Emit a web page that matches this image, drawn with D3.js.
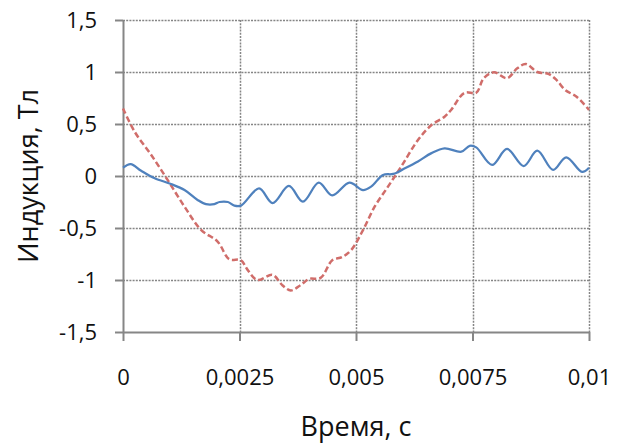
<!DOCTYPE html>
<html>
<head>
<meta charset="utf-8">
<script src="https://cdn.jsdelivr.net/npm/d3@7"></script>
<style>
  body { margin: 0; background: #fff; }
  svg { display: block; font-family: "Open Sans", sans-serif; }
</style>
</head>
<body>
<svg id="chart" width="626" height="443"></svg>
<script>
// time, s
var blueT = [0, 0.000165, 0.00039, 0.00068, 0.00103, 0.00132, 0.0016, 0.00178, 0.00196, 0.00207, 0.00225, 0.00239, 0.00253,
             0.00292, 0.00321, 0.00356, 0.00386, 0.0042, 0.00449, 0.00486, 0.00515, 0.00533, 0.00558, 0.0058, 0.00605,
             0.00633, 0.00662, 0.0069, 0.00726, 0.00744, 0.00758, 0.00792, 0.00824, 0.0086, 0.00889, 0.00923, 0.00951,
             0.00985, 0.01];
var blueB = [0.08, 0.115, 0.05, -0.022, -0.077, -0.135, -0.23, -0.27, -0.27, -0.25, -0.25, -0.285, -0.285,
             -0.12, -0.26, -0.096, -0.247, -0.064, -0.186, -0.064, -0.135, -0.1, 0.01, 0.02, 0.074,
             0.14, 0.22, 0.266, 0.234, 0.29, 0.275, 0.106, 0.26, 0.096, 0.243, 0.058, 0.18,
             0.04, 0.08];

var redT = [0, 0.00025, 0.00061, 0.00096, 0.00132, 0.00168, 0.00203, 0.00228, 0.00253, 0.00267, 0.00288, 0.00321,
            0.00342, 0.0036, 0.00381, 0.00399, 0.00424, 0.00449, 0.0047, 0.0049, 0.00515, 0.0054, 0.00569, 0.00597,
            0.00633, 0.00662, 0.0069, 0.00704, 0.00733, 0.00758, 0.00774, 0.00796, 0.00824, 0.00846, 0.00864,
            0.00889, 0.00914, 0.00931, 0.00949, 0.00974, 0.01];
var redB = [0.65, 0.426, 0.2, -0.04, -0.295, -0.52, -0.63, -0.8, -0.81, -0.9, -1.0, -0.95,
            -1.05, -1.1, -1.05, -0.99, -0.98, -0.81, -0.78, -0.71, -0.52, -0.295, -0.1, 0.09,
            0.346, 0.49, 0.57, 0.635, 0.8, 0.8, 0.94, 0.997, 0.94, 1.035, 1.077,
            1.0, 0.98, 0.92, 0.827, 0.76, 0.635];

var xTicks = [0, 0.0025, 0.005, 0.0075, 0.01];
var yTicks = [-1.5, -1, -0.5, 0, 0.5, 1, 1.5];

var svg = d3.select("#chart");
var margin = {top: 20, right: 37, bottom: 111, left: 123};
var width = +svg.attr("width") - margin.left - margin.right,
    height = +svg.attr("height") - margin.top - margin.bottom;

var fmt = function (d) { return String(d).replace(".", ","); };

var x = d3.scaleLinear().domain([0, 0.01]).range([0, width]);
var y = d3.scaleLinear().domain([-1.5, 1.5]).range([height, 0]);

var g = svg.append("g")
    .attr("transform", "translate(" + margin.left + "," + margin.top + ")");

// grid (dotted, Excel style)
g.append("g").selectAll("line")
    .data(yTicks.filter(function (d) { return d > -1.5; }))
    .join("line")
    .attr("x1", 0).attr("x2", width)
    .attr("y1", function (d) { return Math.round(y(d)) + 0.5; })
    .attr("y2", function (d) { return Math.round(y(d)) + 0.5; })
    .attr("stroke", "#858585").attr("stroke-width", 1.5).attr("stroke-dasharray", "2,1.2");

g.append("g").selectAll("line")
    .data(xTicks.filter(function (d) { return d > 0; }))
    .join("line")
    .attr("y1", 0).attr("y2", height)
    .attr("x1", function (d) { return Math.round(x(d)) + 0.5; })
    .attr("x2", function (d) { return Math.round(x(d)) + 0.5; })
    .attr("stroke", "#858585").attr("stroke-width", 1.5).attr("stroke-dasharray", "2,1.2");

// axes
var yAxis = g.append("g")
    .call(d3.axisLeft(y).tickValues(yTicks).tickFormat(fmt).tickSize(8).tickPadding(18).tickSizeOuter(0));
var xAxis = g.append("g")
    .attr("transform", "translate(0," + height + ")")
    .call(d3.axisBottom(x).tickValues(xTicks).tickFormat(fmt).tickSize(9).tickSizeOuter(0));

[yAxis, xAxis].forEach(function (a) {
    a.select(".domain").attr("stroke", "#868686").attr("stroke-width", 2);
    a.selectAll(".tick line").attr("stroke", "#868686").attr("stroke-width", 2);
    a.selectAll("text").attr("fill", "#111").style("font-size", "22px").style("font-family", "Open Sans, sans-serif");
});
xAxis.selectAll("text").attr("y", 53).attr("dy", null);

// series
var line = d3.line()
    .x(function (d) { return x(d[0]); })
    .y(function (d) { return y(d[1]); })
    .curve(d3.curveCatmullRom.alpha(0.5));

g.append("path")
    .datum(d3.zip(redT, redB))
    .attr("fill", "none")
    .attr("stroke", "#d06d6a")
    .attr("stroke-width", 2.5)
    .attr("stroke-dasharray", "6,3")
    .attr("d", line);

g.append("path")
    .datum(d3.zip(blueT, blueB))
    .attr("fill", "none")
    .attr("stroke", "#4f81bd")
    .attr("stroke-width", 2.25)
    .attr("d", line);

// titles
svg.append("text")
    .attr("x", margin.left + width / 2)
    .attr("y", 436)
    .attr("text-anchor", "middle")
    .style("font-size", "27px")
    .attr("fill", "#111")
    .text("Время, с");

svg.append("text")
    .attr("transform", "translate(38," + (margin.top + height / 2) + ") rotate(-90)")
    .attr("text-anchor", "middle")
    .style("font-size", "27px")
    .attr("fill", "#111")
    .text("Индукция, Тл");
</script>
</body>
</html>
